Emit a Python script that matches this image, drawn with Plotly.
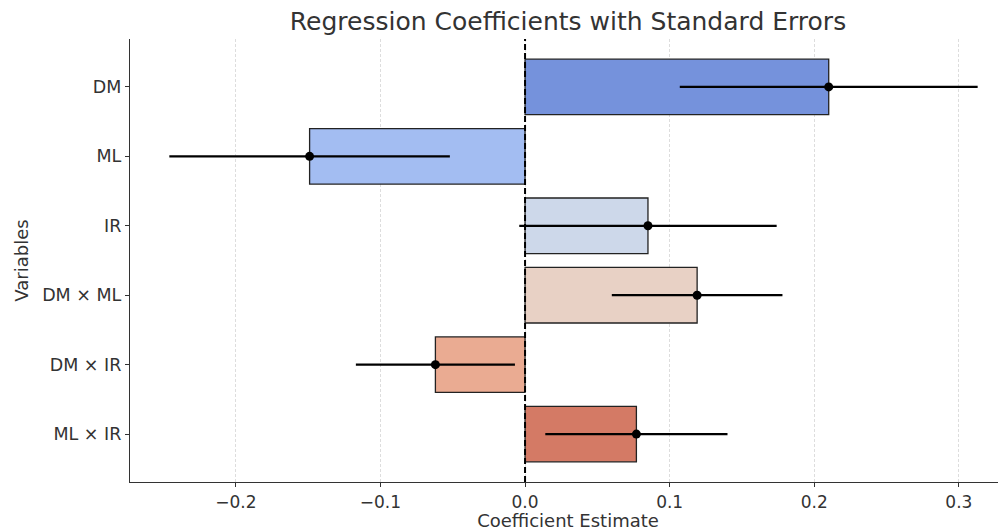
import plotly.graph_objects as go

variables = ["DM", "ML", "IR", "DM × ML", "DM × IR", "ML × IR"]
coefficients = [0.210, -0.149, 0.085, 0.119, -0.062, 0.077]
std_errors = [0.103, 0.097, 0.089, 0.059, 0.055, 0.063]
bar_colors = ["#7592dc", "#a3bdf2", "#cdd8ea", "#e8d1c5", "#eaab92", "#d47a65"]
x_ticks = [-0.2, -0.1, 0.0, 0.1, 0.2, 0.3]
x_tick_labels = ["\u22120.2", "\u22120.1", "0.0", "0.1", "0.2", "0.3"]

font_family = "DejaVu Sans"
text_color = "#333333"

fig = go.Figure()

fig.add_trace(go.Bar(
    x=coefficients,
    y=variables,
    orientation="h",
    width=0.8,
    marker=dict(color=bar_colors, line=dict(color="#222222", width=1.3)),
    showlegend=False,
    hoverinfo="x+y",
))

fig.add_trace(go.Scatter(
    x=coefficients,
    y=variables,
    mode="markers",
    marker=dict(color="black", size=9),
    error_x=dict(type="data", array=std_errors, symmetric=True,
                 color="black", thickness=2.2, width=0),
    showlegend=False,
))

fig.add_shape(type="line", xref="x", yref="paper", x0=0, x1=0, y0=0, y1=1,
              line=dict(color="black", width=2, dash="6px,3px"), layer="above")

fig.update_layout(
    width=998, height=523,
    margin=dict(l=122, r=0, t=31, b=49, autoexpand=False),
    paper_bgcolor="white", plot_bgcolor="white",
    font=dict(family=font_family, color=text_color, size=17),
    title=dict(text="Regression Coefficients with Standard Errors",
               x=0.5, xanchor="center", xref="paper", y=0.975, yanchor="middle",
               font=dict(size=25, color=text_color, family=font_family)),
    bargap=0.2,
)

fig.update_xaxes(
    range=[-0.2732, 0.3326],
    automargin=False,
    tickvals=x_ticks, ticktext=x_tick_labels,
    showgrid=True, gridcolor="#dddddd", gridwidth=0.8, griddash="3px,2px",
    zeroline=False,
    showline=True, linecolor=text_color, linewidth=1.3,
    ticks="outside", ticklen=4, tickcolor=text_color, tickwidth=1.2,
    tickfont=dict(size=17, color=text_color),
    title=dict(text="Coefficient Estimate", font=dict(size=18, color=text_color), standoff=4),
)

fig.update_yaxes(
    type="category",
    range=[5.69, -0.69],
    automargin=False,
    showgrid=False, zeroline=False,
    showline=True, linecolor=text_color, linewidth=1.3,
    ticks="outside", ticklen=4, tickcolor=text_color, tickwidth=1.2,
    tickfont=dict(size=17.5, color=text_color),
    title=dict(text="Variables", font=dict(size=18, color=text_color), standoff=8),
)

fig.write_html("out.html")
